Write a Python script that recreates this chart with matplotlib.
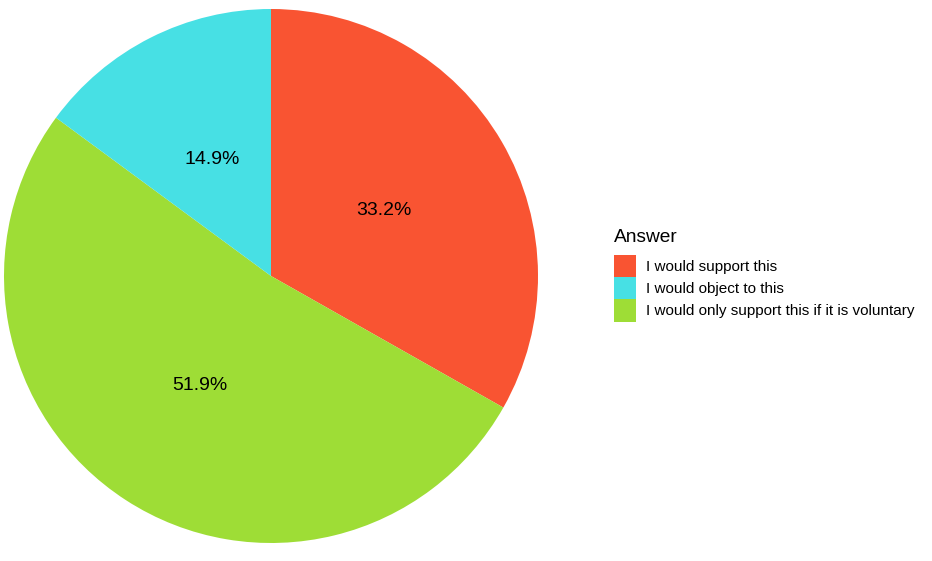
import matplotlib.pyplot as plt
from matplotlib.patches import Patch

plt.rcParams['font.family'] = ['Liberation Sans', 'DejaVu Sans']

answers = ['I would support this', 'I would object to this',
           'I would only support this if it is voluntary']
shares = [33.2, 14.9, 51.9]
colors = ['#F95432', '#47E0E4', '#9EDD36']

# pie goes clockwise from 12 o'clock: support, voluntary, object
order = [0, 2, 1]
pie_vals = [shares[i] for i in order]
pie_cols = [colors[i] for i in order]

W, H = 932, 561
fig = plt.figure(figsize=(W / 100, H / 100), dpi=100)
cx, cy, r = 271, 285, 267
ax = fig.add_axes([(cx - r) / W, (cy - r) / H, 2 * r / W, 2 * r / H])

ax.pie(pie_vals, colors=pie_cols, startangle=90, counterclock=False,
       autopct='%.1f%%', pctdistance=0.49,
       textprops={'fontsize': 14, 'color': 'black'},
       wedgeprops={'linewidth': 0})
ax.set_xlim(-1, 1)
ax.set_ylim(-1, 1)
ax.set_aspect('equal')
ax.axis('off')

fig.text(614 / W, 1 - 237 / H, 'Answer', fontsize=13.8, ha='left', va='center')

handles = [Patch(facecolor=c, edgecolor='none') for c in colors]
leg = fig.legend(handles, answers, loc='upper left',
                 bbox_to_anchor=(614 / W, 1 - 255 / H), frameon=False,
                 fontsize=11, handlelength=1.44, handleheight=1.86,
                 handletextpad=0.65, labelspacing=0, borderpad=0,
                 borderaxespad=0)

fig.savefig('out.png', dpi=100)
